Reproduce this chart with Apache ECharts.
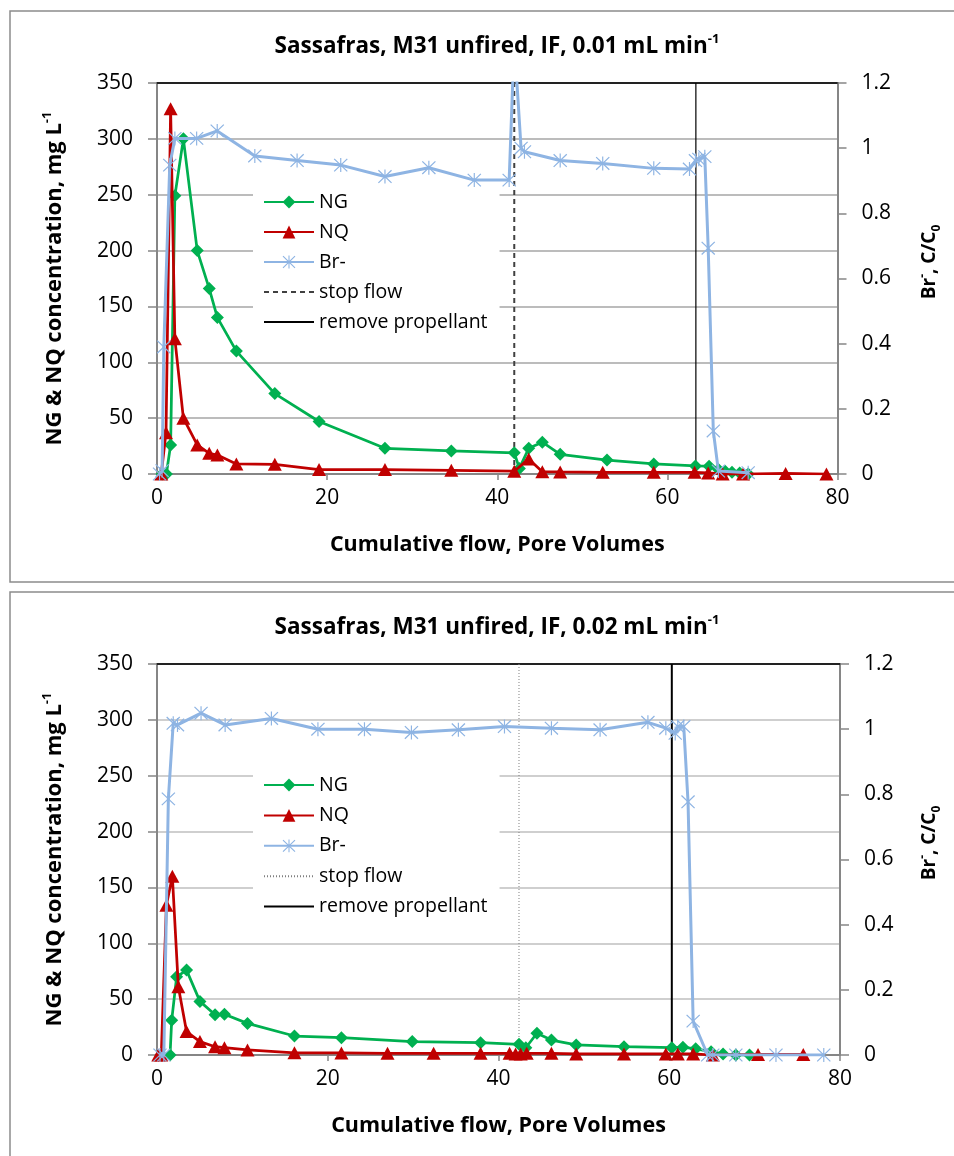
<!DOCTYPE html>
<html><head><meta charset="utf-8">
<script src="https://cdn.jsdelivr.net/npm/echarts@6/dist/echarts.min.js"></script>
<style>html,body{margin:0;padding:0;background:#fff;overflow:hidden}#c1{width:954px;height:587px}#c2{width:954px;height:569px}</style>
</head><body><div id="c1"></div><div id="c2"></div>
<script>
// ---------- axis ranges / ticks ----------
const X_MIN = 0, X_MAX = 80, X_INTERVAL = 20;
const CONC_MIN = 0, CONC_MAX = 350, CONC_INTERVAL = 50;
const BR_MIN = 0, BR_MAX = 1.2, BR_INTERVAL = 0.2;
const legendNames = ['NG', 'NQ', 'Br-', 'stop flow', 'remove propellant'];

// ---------- chart 1: 0.01 mL/min ----------
const ng1 = [[0.6,0],[1.1,0],[1.6,26],[2.1,249],[3.1,300],[4.73,200],[6.14,166],[7.1,140],[9.33,110],[13.85,72],[19.05,47],[26.8,23],[34.6,20.6],[42.0,19],[42.6,5],[43.7,23],[45.3,28.5],[47.4,17.6],[52.9,12.5],[58.4,9],[63.3,7.2],[64.9,7],[66.0,4],[66.8,2.5],[67.6,1.5],[68.5,0.8],[69.5,0]];
const nq1 = [[0.5,0],[1.06,37],[1.6,327],[2.1,121],[3.1,50],[4.73,26],[6.14,18.5],[7.1,17],[9.33,9],[13.85,8.7],[19.05,4],[26.8,4],[34.6,3.3],[42.0,2.5],[43.7,13.5],[45.3,2],[47.4,1.8],[52.4,1.5],[58.4,1.5],[63.2,1.5],[64.8,1],[66.5,0],[68.9,0],[73.9,0.5],[78.7,0]];
const br1 = [[0.3,0],[0.6,0.01],[0.8,0.39],[1.5,0.948],[2.1,1.03],[4.66,1.03],[7.08,1.053],[11.5,0.976],[16.47,0.962],[21.6,0.948],[26.8,0.913],[31.96,0.94],[37.3,0.902],[41.4,0.902],[42.0,1.33],[42.8,1.0],[43.2,0.989],[47.4,0.962],[52.4,0.953],[58.4,0.938],[62.6,0.936],[63.3,0.962],[63.7,0.966],[64.4,0.974],[64.8,0.693],[65.4,0.132],[66.0,0.009],[69.5,0.004]];
const stopFlow1 = 42.0, removeProp1 = 63.35;

// ---------- chart 2: 0.02 mL/min ----------
const ng2 = [[0.5,0],[1.53,0],[1.72,31],[2.3,70],[3.46,76],[5.03,48],[6.8,36],[7.9,36.4],[10.6,28.3],[16.1,17],[21.6,15.5],[29.9,12],[37.9,11],[42.4,9.6],[43.2,6.5],[44.5,19.5],[46.2,13.4],[49.1,9],[54.7,7.4],[60.3,6.5],[61.6,7],[63.1,5.5],[64.9,3],[66.3,1],[67.8,0],[69.4,0]];
const nq2 = [[0.15,0],[0.5,0],[1.1,134],[1.8,160],[2.5,61],[3.46,21],[5.03,12],[6.8,7.4],[7.9,6.5],[10.6,4.5],[16.1,2],[21.6,1.8],[27.0,1.5],[32.4,1.5],[37.9,1.5],[41.3,1.5],[42.0,1],[42.6,1],[43.3,1.5],[46.2,1.5],[49.1,1],[54.7,1],[59.6,1],[61.0,1],[62.8,1],[65.1,0],[70.4,0.5],[75.7,0.5]];
const br2 = [[0.35,0],[0.8,0],[1.33,0.786],[1.9,1.018],[2.4,1.013],[5.16,1.049],[7.98,1.013],[13.4,1.033],[18.85,1.0],[24.3,1.0],[29.8,0.99],[35.3,0.998],[40.7,1.008],[46.2,1.003],[51.9,0.998],[57.5,1.021],[59.6,1.003],[60.7,0.987],[61.0,1.008],[61.7,1.008],[62.2,0.777],[62.8,0.104],[64.5,0],[65.1,0],[67.8,0],[72.5,0],[78.1,0]];
const stopFlow2 = 42.4, removeProp2 = 60.3;

const FONT = "'Open Sans', sans-serif";
const ASTERISK = 'path://M9.2,0L10.8,0L10.8,20L9.2,20Z M1.6,0.4L19.6,18.4L18.4,19.6L0.4,1.6Z M18.4,0.4L19.6,1.6L1.6,19.6L0.4,18.4Z';

function build(c) {
  const tickLabel = { fontFamily: FONT, fontSize: 21, color: '#000' };
  const bold = (size, extra) => Object.assign({ fontFamily: FONT, fontSize: size, fontWeight: 'bold', color: '#000' }, extra || {});
  return {
    animation: false,
    backgroundColor: '#fff',
    graphic: [
      { type: 'rect', shape: { x: 10, y: c.panelY, width: 980, height: c.panelH }, style: { fill: 'none', stroke: '#8c8c8c', lineWidth: 1.5 }, z: -10 },
      { type: 'text', x: 497, y: c.titleY, style: {
          text: '{t|' + c.title + '}{s|-1}', align: 'center', verticalAlign: 'middle',
          rich: { t: bold(22.5, { lineHeight: 28 }), s: bold(13, { lineHeight: 16, verticalAlign: 'top' }) } } },
      { type: 'text', x: 930, y: c.brTitleY, rotation: Math.PI / 2, style: {
          text: '{b|Br}{s|-}{b|, C/C}{u|0}', align: 'center', verticalAlign: 'middle',
          rich: { b: bold(19, { lineHeight: 26 }), s: bold(12, { lineHeight: 15, verticalAlign: 'top' }), u: bold(12, { lineHeight: 15, verticalAlign: 'bottom' }) } } }
    ],
    grid: { left: 157, top: c.gridTop, width: c.gridW, height: 391 },
    legend: {
      orient: 'vertical', left: 253, top: c.legendTop, padding: [12, 12, 12, 10],
      backgroundColor: '#fff', itemWidth: 50, itemHeight: 16, itemGap: c.legendGap,
      textStyle: { fontFamily: FONT, fontSize: 19.5, color: '#000', lineHeight: 20 },
      data: legendNames.map((n, i) => i >= 3 ? { name: n, itemStyle: { opacity: 0 } } : n)
    },
    xAxis: [{
      type: 'value', min: X_MIN, max: X_MAX, interval: X_INTERVAL, position: 'bottom',
      name: 'Cumulative flow, Pore Volumes', nameLocation: 'middle', nameGap: 60,
      nameTextStyle: bold(21.5),
      axisLine: { lineStyle: { color: '#868686', width: 2 } },
      axisTick: { inside: false, length: 6, lineStyle: { color: '#868686', width: 1.5 } },
      axisLabel: Object.assign({ margin: 14 }, tickLabel),
      splitLine: { show: false }
    }, {
      type: 'value', min: X_MIN, max: X_MAX, position: 'top',
      axisLine: { show: true, onZero: false, lineStyle: { color: '#222', width: 2 } },
      axisTick: { show: false }, axisLabel: { show: false }, splitLine: { show: false }
    }],
    yAxis: [{
      type: 'value', min: CONC_MIN, max: CONC_MAX, interval: CONC_INTERVAL, position: 'left',
      name: '{b|NG & NQ concentration, mg L}{s|-1}', nameLocation: 'middle', nameRotate: 90, nameGap: 88,
      nameTextStyle: { rich: { b: bold(22, { lineHeight: 28 }), s: bold(13, { lineHeight: 16, verticalAlign: 'top' }) } },
      axisLine: { show: true, onZero: false, lineStyle: { color: '#868686', width: 2 } },
      axisTick: { show: true, length: 9, lineStyle: { color: '#868686', width: 1.5 } },
      axisLabel: Object.assign({ margin: 24 }, tickLabel),
      splitLine: { show: true, lineStyle: { color: c.gridColor, width: 1.5 } }
    }, {
      type: 'value', min: BR_MIN, max: BR_MAX, interval: BR_INTERVAL, position: 'right',
      axisLine: { show: true, onZero: false, lineStyle: { color: '#868686', width: 2 } },
      axisTick: { show: true, length: 9, lineStyle: { color: '#868686', width: 1.5 } },
      axisLabel: Object.assign({ margin: 24 }, tickLabel),
      splitLine: { show: false }
    }],
    series: [
      { name: 'NG', type: 'line', data: c.ng, symbol: 'diamond', symbolSize: 13, color: '#00B050',
        lineStyle: { width: 2.75 }, z: 3 },
      { name: 'NQ', type: 'line', data: c.nq, symbol: 'triangle', symbolSize: [14, 13], color: '#C00000',
        lineStyle: { width: 2.75 }, z: 4 },
      { name: 'Br-', type: 'line', yAxisIndex: 1, data: c.br, symbol: ASTERISK, symbolSize: 14, color: '#8EB4E3',
        lineStyle: { width: 3 }, z: 5, clip: true },
      { name: 'stop flow', type: 'line', data: [[c.stop, CONC_MIN], [c.stop, CONC_MAX]], symbol: 'none', color: c.stopColor,
        lineStyle: { width: c.stopWidth, type: c.stopType }, z: 2 },
      { name: 'remove propellant', type: 'line', data: [[c.remove, CONC_MIN], [c.remove, CONC_MAX]], symbol: 'none', color: '#000',
        lineStyle: { width: c.removeWidth }, z: 2 }
    ]
  };
}

const ch1 = echarts.init(document.getElementById('c1'), null, { renderer: 'canvas' });
ch1.setOption(build({
  title: 'Sassafras, M31 unfired, IF, 0.01 mL min', titleY: 47, panelY: 11, panelH: 571, brTitleY: 262,
  gridTop: 83, gridW: 680.5, legendTop: 180, legendGap: 10, gridColor: '#A6A6A6',
  ng: ng1, nq: nq1, br: br1, stop: stopFlow1, remove: removeProp1,
  stopColor: '#404040', stopWidth: 2, stopType: [5, 4], removeWidth: 1.2
}));
const ch2 = echarts.init(document.getElementById('c2'), null, { renderer: 'canvas' });
ch2.setOption(build({
  title: 'Sassafras, M31 unfired, IF, 0.02 mL min', titleY: 41, panelY: 5, panelH: 600, brTitleY: 256,
  gridTop: 77, gridW: 683, legendTop: 176, legendGap: 10.4, gridColor: '#BFBFBF',
  ng: ng2, nq: nq2, br: br2, stop: stopFlow2, remove: removeProp2,
  stopColor: '#808080', stopWidth: 1, stopType: [1, 2], removeWidth: 2
}));
</script></body></html>
